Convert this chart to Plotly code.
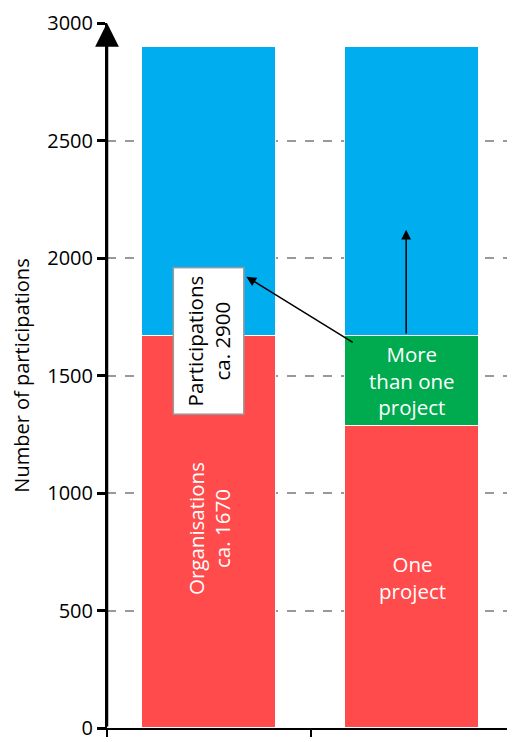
import plotly.graph_objects as go

# Data
bars = [0, 1]
red_vals = [1670, 1285]          # Organisations / One project
green_vals = [0, 385]            # More than one project
blue_vals = [1230, 1230]         # Rest up to participations (2900)
total_participations = 2900
total_organisations = 1670
y_ticks = [0, 500, 1000, 1500, 2000, 2500, 3000]

RED = "#FF4B4C"
GREEN = "#00AB4F"
BLUE = "#00AEEF"
FONT = "Open Sans"

fig = go.Figure()
common = dict(width=0.66, marker_line_color="white", marker_line_width=1,
              hoverinfo="skip", showlegend=False)
fig.add_trace(go.Bar(x=bars, y=red_vals, marker_color=RED, **common))
fig.add_trace(go.Bar(x=bars, y=green_vals, marker_color=GREEN, **common))
fig.add_trace(go.Bar(x=bars, y=blue_vals, marker_color=BLUE, **common))

annotations = [
    # y-axis line with arrowhead
    dict(x=-0.5, y=3000, ax=-0.5, ay=0, xref="x", yref="y", axref="x", ayref="y",
         showarrow=True, arrowhead=2, arrowsize=1.9, arrowwidth=2.5, arrowcolor="black", text=""),
    # Organisations label
    dict(x=0, y=850, xref="x", yref="y",
         text=f"Organisations<br>ca. {total_organisations}", textangle=-90, showarrow=False,
         font=dict(family=FONT, size=20.5, color="white")),
    # Participations box
    dict(x=0, y=1646, xref="x", yref="y",
         text=f"Participations<br>ca. {total_participations}", textangle=-90, showarrow=False,
         font=dict(family=FONT, size=20.5, color="black"),
         bgcolor="white", bordercolor="#999999", borderwidth=1.5, borderpad=7),
    # One project
    dict(x=1, y=640, xref="x", yref="y", text="One<br>project", showarrow=False,
         font=dict(family=FONT, size=20.5, color="white")),
    # More than one project
    dict(x=1, y=red_vals[1] + green_vals[1] / 2, xref="x", yref="y",
         text="More<br>than one<br>project", showarrow=False,
         font=dict(family=FONT, size=20.5, color="white")),
    # vertical arrow
    dict(x=0.97, y=2120, ax=0.97, ay=1672, xref="x", yref="y", axref="x", ayref="y",
         showarrow=True, arrowhead=2, arrowsize=1.3, arrowwidth=1.5, arrowcolor="black", text=""),
    # diagonal arrow
    dict(x=0.185, y=1920, ax=0.715, ay=1637, xref="x", yref="y", axref="x", ayref="y",
         showarrow=True, arrowhead=2, arrowsize=1.3, arrowwidth=1.5, arrowcolor="black", text=""),
]

fig.update_layout(
    width=507, height=734,
    margin=dict(l=99, r=1, t=12, b=11),
    barmode="stack", bargap=0,
    plot_bgcolor="white", paper_bgcolor="white",
    font=dict(family=FONT, size=19, color="black"),
    annotations=annotations,
    xaxis=dict(range=[-0.5, 1.5], tickvals=[-0.5, 0.5, 1.5], ticktext=["", "", ""],
               ticks="outside", ticklen=7, tickwidth=2, tickcolor="black",
               showline=True, linecolor="black", linewidth=2, showgrid=False, zeroline=False,
               fixedrange=True),
    yaxis=dict(range=[0, 3000], tickvals=y_ticks, ticks="outside", ticklen=8, tickwidth=2.5,
               tickcolor="black", showline=True, linecolor="black", linewidth=2,
               showgrid=True, gridcolor="#999999",
               griddash="dash", gridwidth=1.5, zeroline=False,
               ticklabeloverflow="allow",
               tickfont=dict(family=FONT, size=20),
               title=dict(text="Number of participations", font=dict(family=FONT, size=20),
                          standoff=12)),
)

fig.write_html("out.html")
